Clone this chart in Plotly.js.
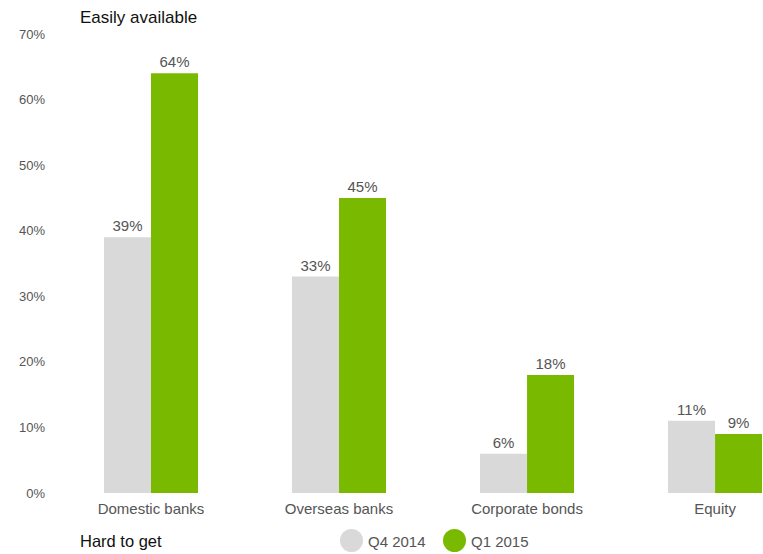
<!DOCTYPE html>
<html><head><meta charset="utf-8">
<script src="https://cdn.plot.ly/plotly-3.0.1.min.js"></script>
<style>html,body{margin:0;padding:0;background:#fff;}#chart{width:763px;height:554px;}</style>
</head><body><div id="chart"></div>
<script>
const categories = ["Domestic banks", "Overseas banks", "Corporate bonds", "Equity"];
const q4_2014 = [39, 33, 6, 11];
const q1_2015 = [64, 45, 18, 9];
const seriesNames = ["Q4 2014", "Q1 2015"];
const yTicks = [0, 10, 20, 30, 40, 50, 60, 70];

const grey = "#d9d9d9", green = "#79b900";
const FAM = "Liberation Sans, Arial, sans-serif";
const textFont = {family: FAM, size: 15, color: "#555"};
const tickFont = {family: FAM, size: 13, color: "#555"};
const legFont = {family: FAM, size: 15, color: "#555"};

const traces = [
  {type: "bar", x: categories, y: q4_2014, name: seriesNames[0], marker: {color: grey},
   texttemplate: "%{y}%", textposition: "outside", textfont: textFont, cliponaxis: false, showlegend: false, hoverinfo: "skip"},
  {type: "bar", x: categories, y: q1_2015, name: seriesNames[1], marker: {color: green},
   texttemplate: "%{y}%", textposition: "outside", textfont: textFont, cliponaxis: false, showlegend: false, hoverinfo: "skip"}
];

const W = 706, H = 459, L = 57, T = 34;
const px = p => (p - L) / W;
const py = p => (T + H - p) / H;

const layout = {
  width: 763, height: 554,
  margin: {l: L, r: 0, t: T, b: 554 - T - H},
  paper_bgcolor: "#fff", plot_bgcolor: "#fff",
  barmode: "group", bargap: 0.5, bargroupgap: 0,
  showlegend: false,
  font: textFont,
  xaxis: {range: [-0.5, 3.255], showgrid: false, zeroline: false, showline: false, ticks: "",
          tickfont: textFont, ticklabelstandoff: 5, fixedrange: true},
  yaxis: {range: [0, 70], tickvals: yTicks, ticktext: yTicks.map(v => v + "%"), showgrid: false,
          zeroline: false, showline: false, ticks: "", tickfont: tickFont, ticklabelstandoff: 11, fixedrange: true},
  shapes: [
    {type: "circle", xref: "paper", yref: "paper", x0: px(340), x1: px(363), y0: py(552), y1: py(529),
     fillcolor: grey, line: {width: 0}},
    {type: "circle", xref: "paper", yref: "paper", x0: px(443), x1: px(466), y0: py(552), y1: py(529),
     fillcolor: green, line: {width: 0}}
  ],
  annotations: [
    {text: "Easily available", xref: "paper", yref: "paper", x: px(78), y: py(17), xanchor: "left", yanchor: "middle",
     showarrow: false, font: {family: FAM, size: 17, color: "#111"}},
    {text: "Hard to get", xref: "paper", yref: "paper", x: px(78), y: py(541), xanchor: "left", yanchor: "middle",
     showarrow: false, font: {family: FAM, size: 16.5, color: "#111"}},
    {text: seriesNames[0], xref: "paper", yref: "paper", x: px(366), y: py(541), xanchor: "left", yanchor: "middle",
     showarrow: false, font: legFont},
    {text: seriesNames[1], xref: "paper", yref: "paper", x: px(469), y: py(541), xanchor: "left", yanchor: "middle",
     showarrow: false, font: legFont}
  ]
};

Plotly.newPlot("chart", traces, layout, {displayModeBar: false, staticPlot: true});
</script></body></html>
